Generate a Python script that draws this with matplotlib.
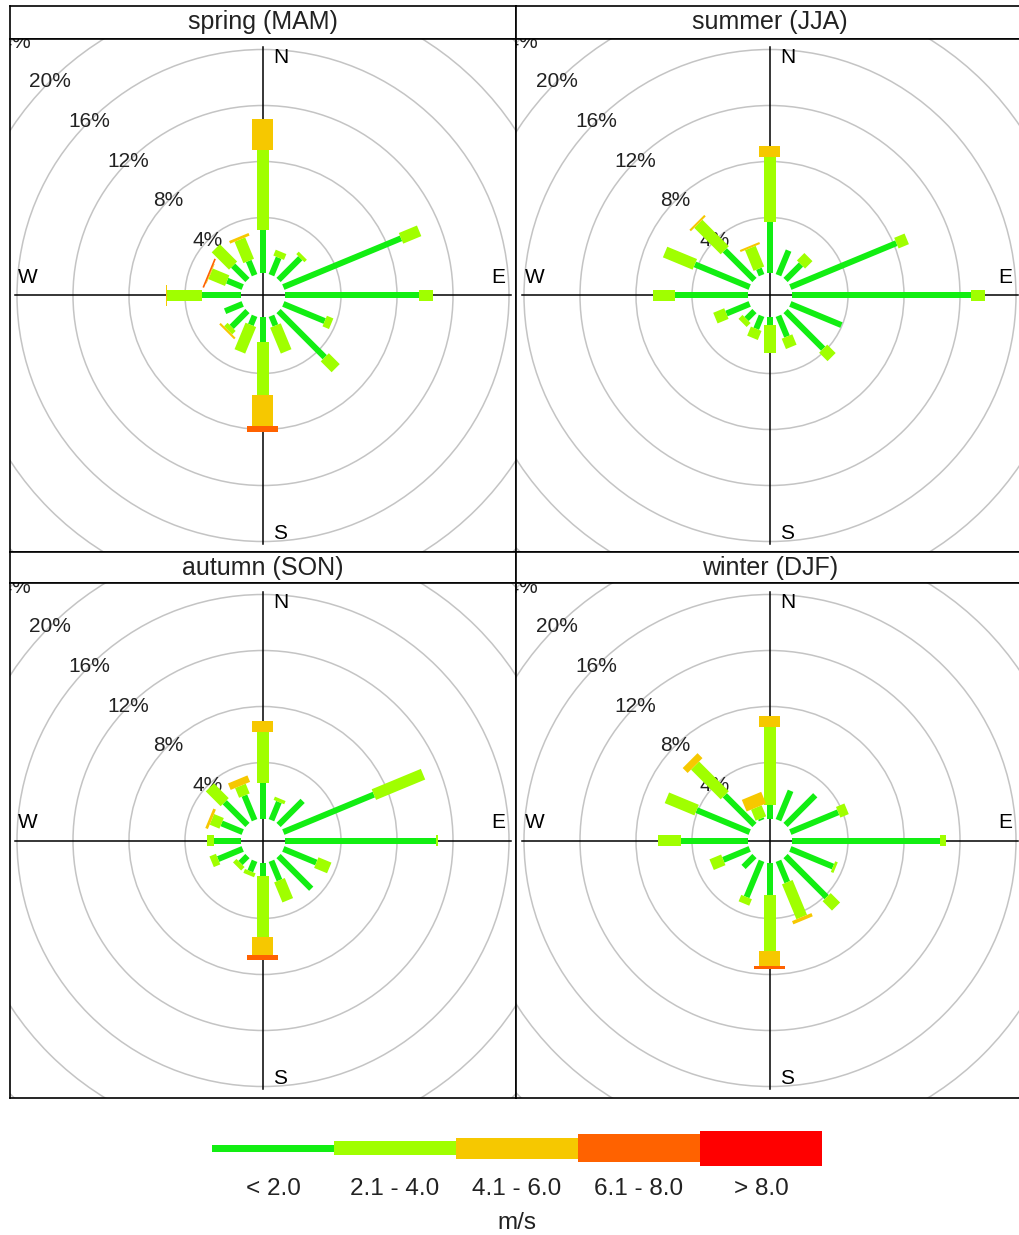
import numpy as np
import matplotlib
matplotlib.use("Agg")
import matplotlib.pyplot as plt
from matplotlib.patches import Polygon, Circle, Rectangle

plt.rcParams["font.family"] = ["Liberation Sans", "DejaVu Sans"]

# ── data (% of time, per speed bin, 16 directions N..NNW) ─────────────────
directions = ["N", "NNE", "NE", "ENE", "E", "ESE", "SE", "SSE",
              "S", "SSW", "SW", "WSW", "W", "WNW", "NW", "NNW"]
bin_labels = ["< 2.0", "2.1 - 4.0", "4.1 - 6.0", "6.1 - 8.0", "> 8.0"]
bin_colors = ["#12ee12", "#a0ff00", "#f6c800", "#ff6200", "#ff0000"]
season_titles = ["spring (MAM)", "summer (JJA)", "autumn (SON)", "winter (DJF)"]
ring_levels = [4, 8, 12, 16, 20, 24]

spring_b1 = [3.1, 1.35, 2.2, 9.1, 9.6, 3.2, 4.67, 0.75, 1.76, 0.7, 1.6, 1.36, 2.76, 1.2, 1.45, 1.1]
spring_b2 = [5.7, 0.45, 0.25, 1.4, 1.0, 0.5, 1.1, 2.0, 3.8, 2.05, 0.35, 0.0, 2.5, 1.28, 1.75, 1.65]
spring_b3 = [2.2, 0, 0, 0, 0, 0, 0, 0, 2.2, 0, 0.15, 0, 0.1, 0.05, 0, 0.2]
spring_b4 = [0, 0, 0, 0, 0, 0, 0, 0, 0.45, 0, 0, 0, 0, 0.12, 0, 0]
spring_b5 = [0] * 16

summer_b1 = [3.67, 1.9, 1.56, 8.2, 12.8, 3.95, 3.8, 1.6, 0.57, 1.0, 0.8, 1.8, 5.2, 4.24, 3.0, 0.5]
summer_b2 = [4.64, 0, 0.75, 0.8, 1.0, 0, 0.85, 0.8, 2.0, 0.7, 0.4, 0.85, 1.6, 2.3, 2.67, 1.6]
summer_b3 = [0.77, 0, 0, 0, 0, 0, 0, 0, 0, 0, 0, 0, 0, 0, 0.15, 0.15]
summer_b4 = [0] * 16
summer_b5 = [0] * 16

autumn_b1 = [2.55, 1.4, 2.43, 7.0, 10.8, 2.55, 3.3, 1.5, 0.93, 0.8, 0.7, 1.9, 1.95, 1.63, 2.3, 1.9]
autumn_b2 = [3.62, 0.25, 0, 3.8, 0.12, 1.0, 0, 1.55, 4.4, 0.3, 0.35, 0.5, 0.5, 0.75, 1.5, 0.75]
autumn_b3 = [0.83, 0, 0, 0, 0, 0, 0, 0, 1.31, 0, 0, 0, 0, 0.2, 0, 0.5]
autumn_b4 = [0, 0, 0, 0, 0, 0, 0, 0, 0.3, 0, 0, 0, 0, 0, 0, 0]
autumn_b5 = [0] * 16

winter_b1 = [0.93, 2.27, 3.0, 3.7, 10.57, 3.3, 4.15, 1.65, 2.3, 2.8, 1.1, 2.04, 4.8, 4.1, 3.0, 0.13]
winter_b2 = [5.6, 0, 0, 0.65, 0.45, 0.2, 0.95, 2.7, 4.0, 0.5, 0, 0.9, 1.6, 2.3, 3.0, 0.85]
winter_b3 = [0.8, 0, 0, 0, 0, 0, 0, 0.25, 1.07, 0, 0, 0, 0, 0, 0.5, 0.9]
winter_b4 = [0, 0, 0, 0, 0, 0, 0, 0, 0.25, 0, 0, 0, 0, 0, 0, 0]
winter_b5 = [0] * 16

seasons = [
    [spring_b1, spring_b2, spring_b3, spring_b4, spring_b5],
    [summer_b1, summer_b2, summer_b3, summer_b4, summer_b5],
    [autumn_b1, autumn_b2, autumn_b3, autumn_b4, autumn_b5],
    [winter_b1, winter_b2, winter_b3, winter_b4, winter_b5],
]

# ── layout (pixels) ───────────────────────────────────────────────────────
W, H = 1020, 1235
PX = 14.0                      # pixels per 1 %
OFF = 22.0 / PX                # empty hole in the middle
bar_w = np.array([6, 11.5, 21, 31, 40]) / PX
line_r = 248.0 / PX

fig = plt.figure(figsize=(W / 100, H / 100), dpi=100)


def px_axes(x0, y0, x1, y1):
    return fig.add_axes([x0 / W, 1 - y1 / H, (x1 - x0) / W, (y1 - y0) / H])


panels = [(10, 39, 516, 552), (516, 39, 1024, 552),
          (10, 583, 516, 1098), (516, 583, 1024, 1098)]
strips = [(10, 6, 516, 39), (516, 6, 1024, 39),
          (10, 552, 516, 583), (516, 552, 1024, 583)]

for i, (title, bins) in enumerate(zip(season_titles, seasons)):
    # title strip
    sx = px_axes(*strips[i])
    sx.set_xticks([]); sx.set_yticks([])
    for s in sx.spines.values():
        s.set_linewidth(1.2)
    sx.text(0.5, 0.5, title, ha="center", va="center", fontsize=18,
            color="#222222", transform=sx.transAxes)

    x0, y0, x1, y1 = panels[i]
    ax = px_axes(x0, y0, x1, y1)
    hw, hh = (x1 - x0) / 2 / PX, (y1 - y0) / 2 / PX
    ax.set_xlim(-hw, hw)
    ax.set_ylim(-hh, hh)
    ax.set_xticks([]); ax.set_yticks([])
    for s in ax.spines.values():
        s.set_linewidth(1.2)
        s.set_zorder(10)

    # grid rings + labels
    for lev in ring_levels:
        ax.add_patch(Circle((0, 0), OFF + lev, fill=False, ec="#c4c4c4",
                            lw=1.1, zorder=1))
        d = (OFF + lev) / np.sqrt(2)
        ax.text(-d, d, f"{lev}%", ha="center", va="center", fontsize=15,
                color="#222222", zorder=3, clip_on=True)

    # axis cross
    ax.plot([-line_r, line_r], [0, 0], color="black", lw=1.1, zorder=2)
    ax.plot([0, 0], [-line_r, line_r], color="black", lw=1.1, zorder=2)
    lab_r, lab_o = 17.0, 1.25
    ax.text(lab_o, lab_r, "N", ha="center", va="center", fontsize=15, zorder=3)
    ax.text(lab_o, -lab_r, "S", ha="center", va="center", fontsize=15, zorder=3)
    ax.text(lab_r - 0.2, lab_o, "E", ha="center", va="center", fontsize=15, zorder=3)
    ax.text(-lab_r + 0.2, lab_o, "W", ha="center", va="center", fontsize=15, zorder=3)

    # bars
    cum = np.cumsum(np.array(bins), axis=0)
    for k in range(len(bins)):
        for j, d in enumerate(directions):
            if bins[k][j] <= 0:
                continue
            th = np.radians(22.5 * j)
            u = np.array([np.sin(th), np.cos(th)])
            p = np.array([np.cos(th), -np.sin(th)])
            r0 = OFF + (cum[k - 1][j] if k > 0 else 0)
            r1 = OFF + cum[k][j]
            h = bar_w[k] / 2
            pts = [r0 * u - h * p, r1 * u - h * p, r1 * u + h * p, r0 * u + h * p]
            ax.add_patch(Polygon(pts, closed=True, fc=bin_colors[k], ec="none",
                                 zorder=4))

# ── legend ────────────────────────────────────────────────────────────────
lx = px_axes(212, 1110, 822, 1240)
lx.set_xlim(0, 5)
lx.set_ylim(-92, 38)
lx.axis("off")
leg_h = [7, 14.5, 21, 27.5, 35]
for k in range(5):
    lx.add_patch(Rectangle((k, -leg_h[k] / 2), 1, leg_h[k], fc=bin_colors[k],
                           ec="none"))
    lx.text(k + 0.5, -41, bin_labels[k], ha="center", va="center", fontsize=17.5,
            color="#222222")
lx.text(2.5, -75, "m/s", ha="center", va="center", fontsize=17.5, color="#222222")

fig.savefig("out.png", dpi=100)
